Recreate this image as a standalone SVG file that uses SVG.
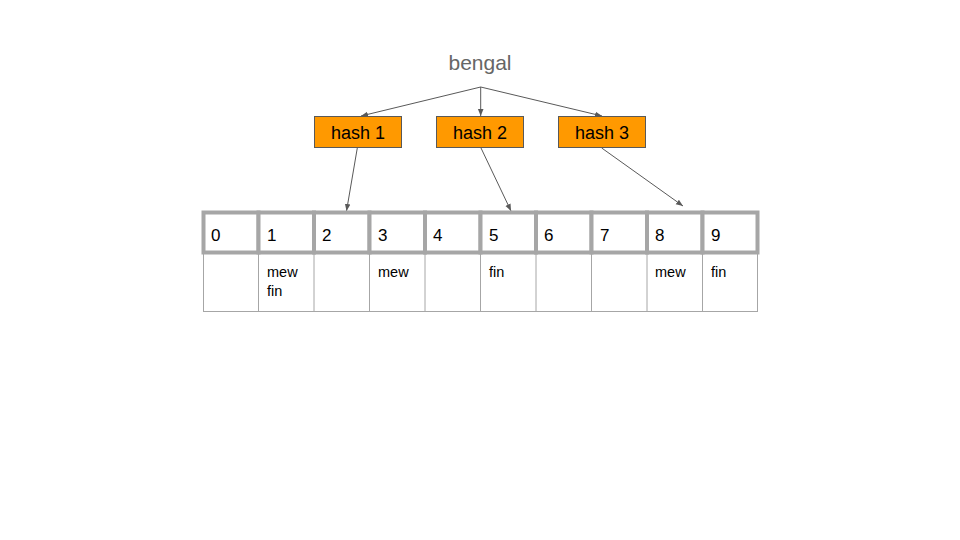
<svg xmlns="http://www.w3.org/2000/svg" width="960" height="540" viewBox="0 0 960 540">
<defs>
<marker id="ah" viewBox="0 0 10 10" refX="10" refY="5" markerWidth="7" markerHeight="7" markerUnits="userSpaceOnUse" orient="auto">
<path d="M0,1 L10,5 L0,9 Z" fill="#595959"/>
</marker>
<style>
.lbl{font-family:"Liberation Sans",Arial,sans-serif;}
.hash rect{fill:#ff9900;stroke:#595959;stroke-width:1;}
.hash text{font-size:18px;fill:#000;text-anchor:middle;}
.cell rect{fill:#fff;stroke:#a6a6a6;stroke-width:4;}
.num{font-size:17px;fill:#000;}
.val{font-size:14.5px;fill:#000;}
.thin{stroke:#a6a6a6;stroke-width:1;fill:none;}
.conn line{stroke:#595959;stroke-width:1;marker-end:url(#ah);}
</style>
</defs>
<rect width="960" height="540" fill="#fff"/>
<g id="bengal"><text class="lbl" x="480" y="70" font-size="21" fill="#666666" text-anchor="middle">bengal</text></g>
<g class="conn" id="connectors">
<line x1="480.7" y1="87" x2="361" y2="116"/>
<line x1="480.7" y1="87" x2="480.7" y2="116"/>
<line x1="480.7" y1="87" x2="602" y2="116"/>
<line x1="357.3" y1="148" x2="346.5" y2="211"/>
<line x1="481" y1="148" x2="511" y2="211"/>
<line x1="601.7" y1="148" x2="683" y2="206"/>
</g>
<g id="hash1" class="hash"><rect x="314.5" y="116.5" width="87" height="31"/><text class="lbl" x="358" y="139">hash 1</text></g>
<g id="hash2" class="hash"><rect x="436.5" y="116.5" width="87" height="31"/><text class="lbl" x="480" y="139">hash 2</text></g>
<g id="hash3" class="hash"><rect x="558.5" y="116.5" width="87" height="31"/><text class="lbl" x="602" y="139">hash 3</text></g>
<g id="table">
<g class="thin">
<line x1="203.5" y1="253" x2="203.5" y2="312"/>
<line x1="258.5" y1="253" x2="258.5" y2="312"/>
<line x1="314" y1="253" x2="314" y2="312"/>
<line x1="369.5" y1="253" x2="369.5" y2="312"/>
<line x1="425" y1="253" x2="425" y2="312"/>
<line x1="480.5" y1="253" x2="480.5" y2="312"/>
<line x1="536" y1="253" x2="536" y2="312"/>
<line x1="591.5" y1="253" x2="591.5" y2="312"/>
<line x1="647" y1="253" x2="647" y2="312"/>
<line x1="702.5" y1="253" x2="702.5" y2="312"/>
<line x1="757.5" y1="253" x2="757.5" y2="312"/>
<line x1="203.5" y1="311.5" x2="757.5" y2="311.5"/>
</g>
<g id="cell0" class="cell"><rect x="203.5" y="212.5" width="55" height="40"/><text class="lbl num" x="211" y="241">0</text></g>
<g id="cell1" class="cell"><rect x="258.5" y="212.5" width="55.5" height="40"/><text class="lbl num" x="267" y="241">1</text><text class="lbl val" x="267" y="277">mew</text><text class="lbl val" x="267" y="296">fin</text></g>
<g id="cell2" class="cell"><rect x="314" y="212.5" width="55.5" height="40"/><text class="lbl num" x="322" y="241">2</text></g>
<g id="cell3" class="cell"><rect x="369.5" y="212.5" width="55.5" height="40"/><text class="lbl num" x="378" y="241">3</text><text class="lbl val" x="378" y="277">mew</text></g>
<g id="cell4" class="cell"><rect x="425" y="212.5" width="55.5" height="40"/><text class="lbl num" x="433" y="241">4</text></g>
<g id="cell5" class="cell"><rect x="480.5" y="212.5" width="55.5" height="40"/><text class="lbl num" x="489" y="241">5</text><text class="lbl val" x="489" y="277">fin</text></g>
<g id="cell6" class="cell"><rect x="536" y="212.5" width="55.5" height="40"/><text class="lbl num" x="544" y="241">6</text></g>
<g id="cell7" class="cell"><rect x="591.5" y="212.5" width="55.5" height="40"/><text class="lbl num" x="600" y="241">7</text></g>
<g id="cell8" class="cell"><rect x="647" y="212.5" width="55.5" height="40"/><text class="lbl num" x="655" y="241">8</text><text class="lbl val" x="655" y="277">mew</text></g>
<g id="cell9" class="cell"><rect x="702.5" y="212.5" width="55" height="40"/><text class="lbl num" x="711" y="241">9</text><text class="lbl val" x="711" y="277">fin</text></g>
</g>
</svg>
